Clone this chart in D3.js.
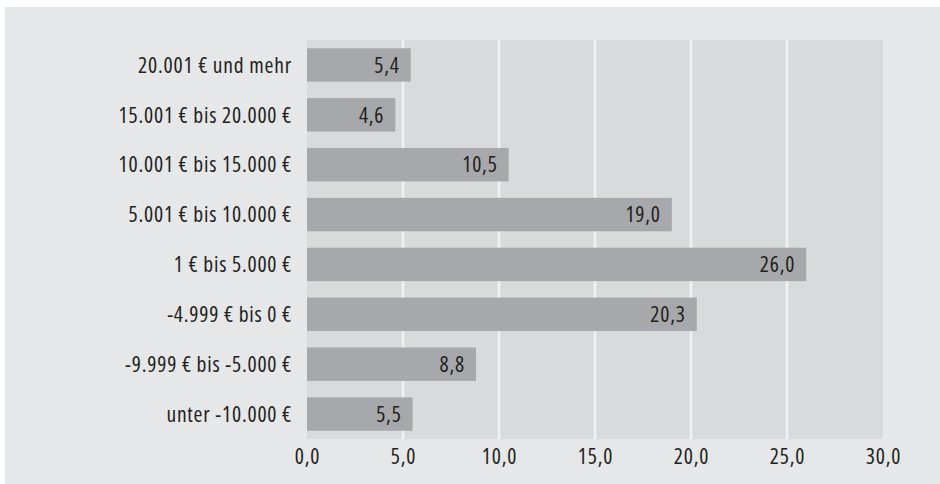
<!DOCTYPE html>
<html>
<head>
<meta charset="utf-8">
<script src="https://cdn.jsdelivr.net/npm/d3@7"></script>
<style>
  html, body { margin: 0; padding: 0; background: #ffffff; }
  svg { display: block; }
  .lbl { font-family: "Open Sans", sans-serif; font-stretch: 75%; font-weight: 400; font-size: 21.5px; letter-spacing: 0.8px; fill: #231f20; }
</style>
</head>
<body>
<svg id="chart" width="940" height="484"></svg>
<script>
// Income brackets (top to bottom) and their shares in percent
const categories = [
  "20.001 € und mehr",
  "15.001 € bis 20.000 €",
  "10.001 € bis 15.000 €",
  "5.001 € bis 10.000 €",
  "1 € bis 5.000 €",
  "-4.999 € bis 0 €",
  "-9.999 € bis -5.000 €",
  "unter -10.000 €"
];
const values = [5.4, 4.6, 10.5, 19.0, 26.0, 20.3, 8.8, 5.5];
const xTicks = [0, 5, 10, 15, 20, 25, 30];

const fmt = v => v.toFixed(1).replace(".", ",");

const svg = d3.select("#chart");
const W = 940, H = 484;
const plot = { left: 307, right: 883, top: 40, bottom: 439 };

// panel background
svg.append("rect")
  .attr("x", 5).attr("y", 7)
  .attr("width", W - 5).attr("height", H - 7)
  .attr("fill", "#e6e7e9");

const x = d3.scaleLinear().domain([0, 30]).range([plot.left, plot.right]);
const y = d3.scaleBand().domain(categories)
  .range([plot.top, plot.bottom])
  .paddingInner(0.33).paddingOuter(0.165);

// plot area
svg.append("rect")
  .attr("x", plot.left).attr("y", plot.top)
  .attr("width", plot.right - plot.left).attr("height", plot.bottom - plot.top)
  .attr("fill", "#d9dadc");

// vertical grid lines
svg.append("g").selectAll("line")
  .data(xTicks.filter(t => t > 0 && t < 30))
  .join("line")
  .attr("x1", d => x(d)).attr("x2", d => x(d))
  .attr("y1", plot.top).attr("y2", plot.bottom)
  .attr("stroke", "#f2f2f3").attr("stroke-width", 2.5);

// bars
svg.append("g").selectAll("rect")
  .data(values)
  .join("rect")
  .attr("x", x(0))
  .attr("y", (d, i) => y(categories[i]))
  .attr("width", d => x(d) - x(0))
  .attr("height", y.bandwidth())
  .attr("fill", "#a7a8ab");

// value labels inside bar ends
svg.append("g").selectAll("text")
  .data(values)
  .join("text")
  .attr("class", "lbl")
  .attr("x", d => x(d) - 11)
  .attr("y", (d, i) => y(categories[i]) + y.bandwidth() / 2)
  .attr("dy", "0.36em")
  .attr("text-anchor", "end")
  .text(d => fmt(d));

// category labels
const yAxis = d3.axisLeft(y).tickSize(0).tickPadding(15);
const gy = svg.append("g").attr("transform", `translate(${plot.left},0)`).call(yAxis);
gy.select(".domain").remove();
gy.attr("font-family", null).attr("font-size", null);
gy.selectAll("text").attr("class", "lbl").attr("fill", null).attr("dy", "0.36em");

// x axis tick labels
const xAxis = d3.axisBottom(x).tickValues(xTicks).tickSize(0).tickPadding(10).tickFormat(fmt);
const gx = svg.append("g").attr("transform", `translate(0,${plot.bottom})`).call(xAxis);
gx.select(".domain").remove();
gx.attr("font-family", null).attr("font-size", null);
gx.selectAll("text").attr("class", "lbl").attr("fill", null);
</script>
</body>
</html>
